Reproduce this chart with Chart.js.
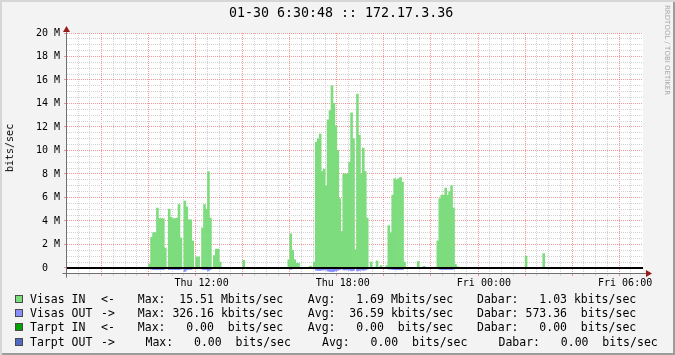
<!DOCTYPE html>
<html>
<head>
<meta charset="utf-8">
<title>172.17.3.36 traffic</title>
<script src="https://cdn.jsdelivr.net/npm/chart.js"></script>
<style>
  body { margin: 0; background: #f3f3f3; }
  .graph {
    position: relative; width: 675px; height: 355px; overflow: hidden;
    background: #f3f3f3;
    box-shadow: inset 2px 2px 0 #d6d6d6, inset -2px -2px 0 #9c9c9c;
    font-family: "DejaVu Sans Mono", monospace; color: #000;
  }
  .graph canvas { position: absolute; left: 0; top: 0; }
  .title { position: absolute; left: 229px; top: 6px; font-size: 13.3px; line-height: 14px; white-space: pre; }
  .ylabel { position: absolute; left: 10px; top: 148px; font-size: 10px; line-height: 12px;
            white-space: nowrap; transform: translate(-50%, -50%) rotate(-90deg); }
  .mark { position: absolute; left: 663px; top: 5px; writing-mode: vertical-rl; font-family: "DejaVu Sans", sans-serif;
          font-size: 7px; color: #a8a8a8; white-space: nowrap; }
  .row { position: absolute; left: 0; height: 14px; width: 675px; font-size: 11.5px; line-height: 14px; }
  .row span { position: absolute; top: 0; white-space: pre; }
  .row .sw { top: 3px; left: 15px; width: 8px; height: 8px; box-sizing: border-box; border: 1px solid #4a4a4a; }
</style>
</head>
<body>
<div class="graph">
  <canvas id="traffic" width="675" height="355"></canvas>
  <div class="title">01-30 6:30:48 :: 172.17.3.36</div>
  <div class="ylabel">bits/sec</div>
  <div class="mark">RRDTOOL / TOBI OETIKER</div>
  <div id="legend"></div>
</div>

<script>
// 5 minute samples from Thu 06:30 to Fri 06:30, values in Mbits/sec (one row = one hour)
var slotStart = 6.5;
var slotHours = 5 / 60;

var visasIn = [
    0,0,0,0,0,0,0,0,0,0,0,0,
    0,0,0,0,0,0,0,0,0,0,0,0,
    0,0,0,0,0,0,0,0,0,0,0,0,
    0,0,0,0.34,2.6,3.0,3.0,5.1,4.2,4.2,4.2,1.7,
    0.05,5.0,4.3,4.2,4.2,4.25,5.4,2.55,0.05,5.7,5.2,4.1,
    4.1,2.3,0.05,0.94,0.94,0.05,3.4,5.4,5.0,8.2,4.25,0.05,
    1.05,1.6,1.6,0.5,0,0,0,0,0,0,0,0,
    0,0,0,0.65,0,0,0,0,0,0,0,0,
    0,0,0,0,0,0,0,0,0,0,0,0,
    0,0,0.7,2.9,1.5,0.7,0.4,0.4,0,0,0,0,
    0,0.15,0,0.5,10.7,11.0,11.4,8.2,8.4,7.0,12.6,13.4,
    15.51,14.0,12.1,10.0,5.9,3.1,8.0,8.0,8.0,9.0,13.2,11.0,
    1.56,14.8,11.3,8.0,10.2,8.2,4.25,0,0.5,0,0,0.6,
    0,0.2,0,0,0.2,3.6,3.0,6.2,7.6,7.5,7.6,7.7,
    7.3,0.5,0,0,0,0,0,0,0.55,0,0,0.15,
    0,0,0,0,0,0,2.3,5.9,6.2,6.2,6.8,6.2,
    6.5,7.0,5.1,0.3,0.1,0,0,0,0,0,0,0,
    0,0,0,0,0,0,0,0,0,0,0,0,
    0,0,0,0,0,0,0,0,0,0,0,0,
    0,0,0,1.0,0,0,0,0,0,0,0,0,
    1.22,0,0,0,0,0,0,0,0,0,0,0,
    0,0,0,0,0,0,0,0,0,0,0,0,
    0,0,0,0,0,0,0,0,0,0,0,0,
    0,0,0,0,0,0,0,0,0,0,0,0
];

var visasOut = [
    0,0,0,0,0,0,0,0,0,0,0,0,
    0,0,0,0,0,0,0,0,0,0,0,0,
    0,0,0,0,0,0,0,0,0,0,0,0,
    0,0,0,0.05,0.12,0.14,0.14,0.15,0.14,0.14,0.14,0.08,
    0.02,0.14,0.13,0.13,0.14,0.14,0.15,0.1,0.02,0.3,0.16,0.12,
    0.12,0.08,0.02,0.05,0.05,0.02,0.12,0.14,0.14,0.25,0.14,0.02,
    0.04,0.06,0.06,0.02,0,0,0,0,0,0,0,0,
    0,0,0,0,0,0,0,0,0,0,0,0,
    0,0,0,0,0,0,0,0,0,0,0,0,
    0,0,0.04,0.12,0.08,0.04,0.02,0.02,0,0,0,0,
    0,0,0,0.03,0.2,0.21,0.22,0.18,0.18,0.16,0.27,0.3,
    0.326,0.3,0.24,0.2,0.14,0.08,0.17,0.17,0.17,0.19,0.25,0.22,
    0.05,0.26,0.21,0.17,0.2,0.17,0.1,0,0.02,0,0,0,
    0,0,0,0,0,0.1,0.1,0.13,0.15,0.15,0.15,0.15,
    0.14,0.02,0,0,0,0,0,0,0,0,0,0,
    0,0,0,0,0,0,0.06,0.12,0.13,0.13,0.14,0.13,
    0.13,0.14,0.11,0,0,0,0,0,0,0,0,0,
    0,0,0,0,0,0,0,0,0,0,0,0,
    0,0,0,0,0,0,0,0,0,0,0,0,
    0,0,0,0,0,0,0,0,0,0,0,0,
    0,0,0,0,0,0,0,0,0,0,0,0,
    0,0,0,0,0,0,0,0,0,0,0,0,
    0,0,0,0,0,0,0,0,0,0,0,0,
    0,0,0,0,0,0,0,0,0,0,0,0
];

var tickHours = [12, 18, 24, 30];
var tickLabels = ['Thu 12:00', 'Thu 18:00', 'Fri 00:00', 'Fri 06:00'];

// legend (GPRINT lines)
var legendNames = ['Visas IN', 'Visas OUT', 'Tarpt IN', 'Tarpt OUT'];
var legendArrows = ['<-', '->', '<-', '->'];
var legendColors = ['#7ddc7d', '#8a8fff', '#00a300', '#4f6bc4'];
var maxValues = [15.51, 326.16, 0, 0];
var maxUnits = ['M', 'k', ' ', ' '];
var avgValues = [1.69, 36.59, 0, 0];
var avgUnits = ['M', 'k', ' ', ' '];
var lastValues = [1.03, 573.36, 0, 0];
var lastUnits = ['k', ' ', ' ', ' '];

var inColor = '#7ddc7d';
var outColor = '#8a8fff';
var majorGrid = 'rgba(235, 70, 70, 0.55)';
var minorGrid = '#d2d2d2';
var axisColor = '#707070';
var arrowColor = '#991c1c';

function toPoints(list, sign) {
    return list.map(function (v, i) {
        return { x: slotStart + (i + 0.5) * slotHours, y: sign * v };
    });
}

function isMajor(c) {
    return c.tick && c.tick.value % 2 === 0;
}

// white plot area, thick zero rule, axis arrows
var rrdDecor = {
    id: 'rrdDecor',
    beforeDraw: function (chart) {
        var a = chart.chartArea, ctx = chart.ctx;
        ctx.save();
        ctx.fillStyle = '#ffffff';
        ctx.fillRect(a.left, a.top, a.right - a.left, a.bottom - a.top);
        ctx.restore();
    },
    afterDatasetsDraw: function (chart) {
        var a = chart.chartArea, ctx = chart.ctx;
        var y0 = Math.round(chart.scales.y.getPixelForValue(0));
        ctx.save();
        ctx.fillStyle = '#000000';
        ctx.fillRect(a.left, y0 - 1, a.right - a.left, 2);
        ctx.restore();
    },
    afterDraw: function (chart) {
        var a = chart.chartArea, ctx = chart.ctx;
        var ax = a.left + 0.5, ay = a.bottom + 0.5;
        ctx.save();
        ctx.strokeStyle = axisColor;
        ctx.lineWidth = 1;
        ctx.beginPath();
        ctx.moveTo(ax, ay + 4); ctx.lineTo(ax, a.top - 2);
        ctx.moveTo(ax - 4, ay); ctx.lineTo(a.right + 3, ay);
        ctx.stroke();
        ctx.fillStyle = arrowColor;
        ctx.beginPath();
        ctx.moveTo(ax, a.top - 7); ctx.lineTo(ax - 3.5, a.top - 1); ctx.lineTo(ax + 3.5, a.top - 1);
        ctx.closePath(); ctx.fill();
        ctx.beginPath();
        ctx.moveTo(a.right + 9, ay); ctx.lineTo(a.right + 3, ay - 3.5); ctx.lineTo(a.right + 3, ay + 3.5);
        ctx.closePath(); ctx.fill();
        ctx.restore();
    }
};

var ctx = document.getElementById('traffic').getContext('2d');
var trafficChart = new Chart(ctx, {
    type: 'bar',
    data: {
        datasets: [
            { label: 'Visas IN', data: toPoints(visasIn, 1), backgroundColor: inColor },
            { label: 'Visas OUT', data: toPoints(visasOut, -1), backgroundColor: outColor }
        ]
    },
    options: {
        responsive: false,
        animation: false,
        devicePixelRatio: 1,
        datasets: {
            bar: { barPercentage: 1, categoryPercentage: 1, borderWidth: 0, grouped: false }
        },
        layout: { padding: { left: 0, top: 33, right: 32, bottom: 62 } },
        plugins: { legend: { display: false }, title: { display: false }, tooltip: { enabled: false } },
        scales: {
            x: {
                type: 'linear',
                min: 6.5,
                max: 30.5,
                afterBuildTicks: function (scale) {
                    var t = [];
                    for (var h = 7; h <= 30; h += 0.5) t.push({ value: h });
                    scale.ticks = t;
                },
                afterFit: function (scale) { scale.height = 20; },
                ticks: {
                    autoSkip: false, maxRotation: 0, padding: 1, color: '#000',
                    font: { family: 'DejaVu Sans Mono', size: 10 },
                    callback: function (v) {
                        var i = tickHours.indexOf(v);
                        return i < 0 ? '' : tickLabels[i];
                    }
                },
                grid: {
                    color: function (c) { return isMajor(c) ? majorGrid : minorGrid; },
                    tickColor: function (c) { return isMajor(c) ? majorGrid : minorGrid; },
                    tickLength: 3
                },
                border: { color: axisColor, dash: [1, 1] }
            },
            y: {
                min: -0.43,
                max: 20,
                afterBuildTicks: function (scale) {
                    var t = [];
                    for (var v = 0; v <= 20; v += 0.5) t.push({ value: v });
                    scale.ticks = t;
                },
                afterFit: function (scale) { scale.width = 66; },
                ticks: {
                    autoSkip: false, padding: 4, color: '#000',
                    font: { family: 'DejaVu Sans Mono', size: 10 },
                    callback: function (v) {
                        if (v % 2 !== 0) return '';
                        return v === 0 ? '0  ' : v + ' M';
                    }
                },
                grid: {
                    color: function (c) { return isMajor(c) ? majorGrid : minorGrid; },
                    tickColor: function (c) { return isMajor(c) ? majorGrid : 'rgba(0,0,0,0)'; },
                    tickLength: 2
                },
                border: { color: axisColor, dash: [1, 1] }
            }
        }
    },
    plugins: [rrdDecor]
});

// legend rows
var rowTops = [292, 306.2, 320.4, 334.6];
var groupX = [[137.8, 307.8, 477], [137.8, 307.8, 477], [137.8, 307.8, 477], [145.5, 322, 498.5]];
var legend = document.getElementById('legend');

function fmt(label, v, unit) {
    return label + v.toFixed(2).padStart(7) + ' ' + unit + 'bits/sec';
}

legendNames.forEach(function (name, i) {
    var row = document.createElement('div');
    row.className = 'row';
    row.style.top = rowTops[i] + 'px';
    var parts = [
        ['', 15],
        [name, 30],
        [legendArrows[i], 101],
        [fmt('Max:', maxValues[i], maxUnits[i]), groupX[i][0]],
        [fmt('Avg:', avgValues[i], avgUnits[i]), groupX[i][1]],
        [fmt('Dabar:', lastValues[i], lastUnits[i]), groupX[i][2]]
    ];
    parts.forEach(function (p, j) {
        var s = document.createElement('span');
        if (j === 0) {
            s.className = 'sw';
            s.style.background = legendColors[i];
        } else {
            s.textContent = p[0];
            s.style.left = p[1] + 'px';
        }
        row.appendChild(s);
    });
    legend.appendChild(row);
});
</script>
</body>
</html>
